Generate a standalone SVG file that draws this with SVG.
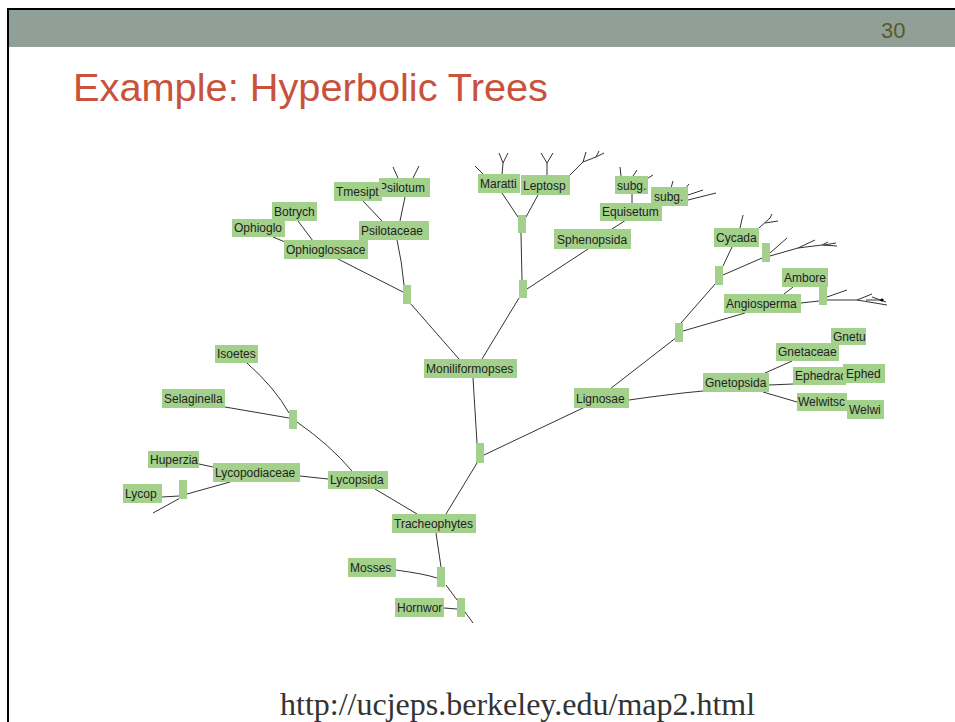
<svg xmlns="http://www.w3.org/2000/svg" width="955" height="722" viewBox="0 0 955 722">
  <style>
    .lbl rect { fill: #a3d08b; }
    .lbl text { font-family: "Liberation Sans", Arial, sans-serif; font-size: 12px; fill: #222; }
    .jn { fill: #a3d08b; }
    #connectors path { fill: none; stroke: #333; stroke-width: 1; }
    .title { font-family: "Liberation Sans", Arial, sans-serif; font-size: 39px; fill: #c8523b; }
    .pageno { font-family: "Liberation Sans", Arial, sans-serif; font-size: 22px; fill: #5a5a28; }
    .url { font-family: "Liberation Serif", "Times New Roman", serif; font-size: 32px; fill: #333; }
  </style>

  <!-- slide frame and header band -->
  <rect x="0" y="0" width="955" height="722" fill="#ffffff"/>
  <rect x="9" y="10" width="946" height="37" fill="#90a096"/>
  <line x1="8" y1="9" x2="955" y2="9" stroke="#000" stroke-width="2"/>
  <line x1="8" y1="8" x2="8" y2="722" stroke="#000" stroke-width="2"/>
  <text class="pageno" x="881" y="38">30</text>
  <text class="title" x="73" y="101" textLength="475" lengthAdjust="spacingAndGlyphs">Example: Hyperbolic Trees</text>

  <!-- branches of the tree -->
  <g id="connectors">
    <path d="M403,292 L338,259"/>
    <path d="M404,285 Q402,262 397,240"/>
    <path d="M410,303 L459,359"/>
    <path d="M400,221 L405,197"/>
    <path d="M382,221 L363,201"/>
    <path d="M313,241 L298,221"/>
    <path d="M273,237 L285,242"/>
    <path d="M398,178 L393,167 M413,178 L419,166"/>
    <path d="M518,217 L502,193"/>
    <path d="M526,217 L538,195"/>
    <path d="M521,233 L522,280"/>
    <path d="M527,289 L588,249"/>
    <path d="M519,298 L482,359"/>
    <path d="M612,229 L626,220"/>
    <path d="M632,203 L632,194"/>
    <path d="M483,174 L475,166 M502,175 L503,163 L499,153 M503,163 L508,153"/>
    <path d="M547,175 L547,163 L541,153 M547,163 L553,153"/>
    <path d="M570,175 L583,162 L586,152 M583,162 L596,157 L604,153 M596,157 L599,151"/>
    <path d="M621,176 L620,167 M633,176 L637,170 M645,180 L653,175"/>
    <path d="M671,188 L673,181 M684,190 L689,184 M688,195 L703,190 M688,200 L716,193"/>
    <path d="M610,389 L677,337"/>
    <path d="M629,400 Q670,394 703,391"/>
    <path d="M585,407 L484,455"/>
    <path d="M681,323 L716,283"/>
    <path d="M683,331 L745,313"/>
    <path d="M723,275 L762,258"/>
    <path d="M723,266 L732,247"/>
    <path d="M740,228 L743,215 M759,228 L770,218 L772,214 M765,223 L778,221"/>
    <path d="M770,253 L787,238 M770,256 L798,248 L815,240 M798,248 L822,245 L828,242 M822,245 L837,246 M824,245 L836,243"/>
    <path d="M793,287 L784,294"/>
    <path d="M801,303 L819,301"/>
    <path d="M827,297 L847,290 M827,300 L857,300 L872,294 M857,300 L887,305 M866,300 L882,300 M872,297 L886,302"/>
    <path d="M765,373 L792,361"/>
    <path d="M769,385 L793,384"/>
    <path d="M763,392 L797,402"/>
    <path d="M473,378 L477,443"/>
    <path d="M477,463 L446,514"/>
    <path d="M247,363 Q275,388 289,413"/>
    <path d="M225,407 L289,418"/>
    <path d="M297,422 Q330,445 352,471"/>
    <path d="M300,476 L328,479"/>
    <path d="M199,464 L213,467"/>
    <path d="M230,482 L187,494"/>
    <path d="M162,497 L179,496"/>
    <path d="M182,497 L153,513"/>
    <path d="M375,489 L417,514"/>
    <path d="M436,533 L441,567"/>
    <path d="M396,570 Q425,574 437,578"/>
    <path d="M446,585 L457,600"/>
    <path d="M444,608 L457,609"/>
    <path d="M465,612 L473,623"/>
    <circle cx="882" cy="300" r="1.6" fill="#000"/>
  </g>

  <!-- junction markers -->
  <g id="junctions">
    <rect id="j-psilo" class="jn" x="403" y="285" width="8" height="19"/>
    <rect id="j-ferns" class="jn" x="518" y="215" width="8" height="18"/>
    <rect id="j-moni" class="jn" x="519" y="280" width="8" height="18"/>
    <rect id="j-cyc" class="jn" x="715" y="266" width="8" height="19"/>
    <rect id="j-cyc2" class="jn" x="762" y="243" width="8" height="19"/>
    <rect id="j-angio" class="jn" x="819" y="287" width="8" height="18"/>
    <rect id="j-seed" class="jn" x="675" y="323" width="8" height="19"/>
    <rect id="j-lyc" class="jn" x="289" y="410" width="8" height="19"/>
    <rect id="j-lycop" class="jn" x="179" y="480" width="8" height="19"/>
    <rect id="j-euphyll" class="jn" x="476" y="443" width="8" height="20"/>
    <rect id="j-moss" class="jn" x="437" y="567" width="8" height="20"/>
    <rect id="j-horn" class="jn" x="457" y="598" width="8" height="19"/>
  </g>

  <!-- labelled nodes -->
  <g id="psilotum" class="lbl"><rect x="379" y="178" width="51" height="19"/><text x="379" y="192">Psilotum</text></g>
  <g id="tmesipt" class="lbl"><rect x="334" y="182" width="48" height="19"/><text x="336" y="196">Tmesipt</text></g>
  <g id="botrych" class="lbl"><rect x="272" y="202" width="45" height="19"/><text x="274" y="216">Botrych</text></g>
  <g id="ophioglo" class="lbl"><rect x="232" y="219" width="53" height="18"/><text x="234" y="232">Ophioglo</text></g>
  <g id="psilotaceae" class="lbl"><rect x="359" y="221" width="70" height="19"/><text x="361" y="235">Psilotaceae</text></g>
  <g id="ophioglossace" class="lbl"><rect x="284" y="240" width="84" height="19"/><text x="286" y="254">Ophioglossace</text></g>
  <g id="maratti" class="lbl"><rect x="478" y="174" width="42" height="19"/><text x="480" y="188">Maratti</text></g>
  <g id="leptosp" class="lbl"><rect x="521" y="175" width="49" height="20"/><text x="523" y="190">Leptosp</text></g>
  <g id="subg-1" class="lbl"><rect x="615" y="176" width="33" height="18"/><text x="617" y="190">subg.</text></g>
  <g id="subg-2" class="lbl"><rect x="651" y="187" width="37" height="19"/><text x="654" y="201">subg.</text></g>
  <g id="equisetum" class="lbl"><rect x="600" y="203" width="62" height="18"/><text x="602" y="216">Equisetum</text></g>
  <g id="sphenopsida" class="lbl"><rect x="554" y="229" width="77" height="20"/><text x="557" y="244">Sphenopsida</text></g>
  <g id="cycada" class="lbl"><rect x="714" y="228" width="45" height="19"/><text x="716" y="242">Cycada</text></g>
  <g id="ambore" class="lbl"><rect x="782" y="268" width="46" height="19"/><text x="784" y="282">Ambore</text></g>
  <g id="angiosperma" class="lbl"><rect x="724" y="294" width="77" height="19"/><text x="726" y="308">Angiosperma</text></g>
  <g id="gnetu" class="lbl"><rect x="831" y="328" width="35" height="17"/><text x="833" y="341">Gnetu</text></g>
  <g id="gnetaceae" class="lbl"><rect x="776" y="343" width="63" height="18"/><text x="778" y="356">Gnetaceae</text></g>
  <g id="gnetopsida" class="lbl"><rect x="703" y="373" width="66" height="19"/><text x="705" y="387">Gnetopsida</text></g>
  <g id="ephedrac" class="lbl"><rect x="793" y="367" width="53" height="18"/><text x="795" y="380">Ephedrac</text></g>
  <g id="ephed" class="lbl"><rect x="843" y="364" width="42" height="19"/><text x="846" y="378">Ephed</text></g>
  <g id="welwitsc" class="lbl"><rect x="797" y="393" width="50" height="18"/><text x="798" y="406">Welwitsc</text></g>
  <g id="welwi" class="lbl"><rect x="847" y="400" width="37" height="19"/><text x="849" y="414">Welwi</text></g>
  <g id="lignosae" class="lbl"><rect x="574" y="388" width="55" height="20"/><text x="576" y="403">Lignosae</text></g>
  <g id="moniliformopses" class="lbl"><rect x="424" y="359" width="93" height="19"/><text x="426" y="373">Moniliformopses</text></g>
  <g id="isoetes" class="lbl"><rect x="215" y="345" width="43" height="18"/><text x="217" y="358">Isoetes</text></g>
  <g id="selaginella" class="lbl"><rect x="162" y="389" width="63" height="19"/><text x="164" y="403">Selaginella</text></g>
  <g id="huperzia" class="lbl"><rect x="148" y="451" width="51" height="17"/><text x="150" y="464">Huperzia</text></g>
  <g id="lycopodiaceae" class="lbl"><rect x="213" y="463" width="87" height="19"/><text x="215" y="477">Lycopodiaceae</text></g>
  <g id="lycop" class="lbl"><rect x="123" y="484" width="39" height="19"/><text x="125" y="498">Lycop</text></g>
  <g id="lycopsida" class="lbl"><rect x="328" y="471" width="60" height="18"/><text x="330" y="484">Lycopsida</text></g>
  <g id="tracheophytes" class="lbl"><rect x="392" y="514" width="84" height="19"/><text x="394" y="528">Tracheophytes</text></g>
  <g id="mosses" class="lbl"><rect x="348" y="558" width="48" height="19"/><text x="350" y="572">Mosses</text></g>
  <g id="hornwor" class="lbl"><rect x="395" y="598" width="49" height="19"/><text x="397" y="612">Hornwor</text></g>

  <text class="url" x="280" y="715">http://ucjeps.berkeley.edu/map2.html</text>
</svg>
